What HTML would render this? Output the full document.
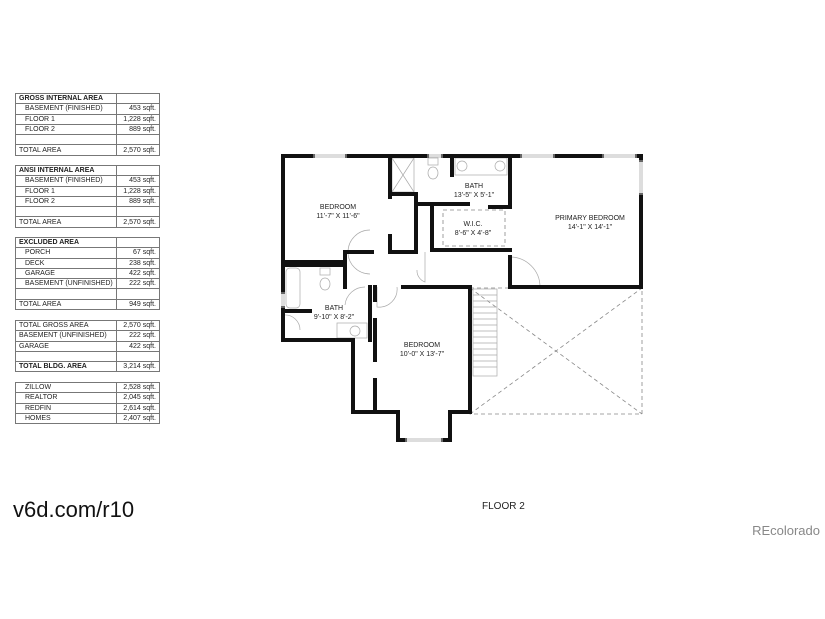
<!DOCTYPE html>
<html><head><style>
body{margin:0;background:#fff;width:825px;height:619px;overflow:hidden;position:relative;font-family:"Liberation Sans",sans-serif}
table{position:absolute;left:15px;width:145px;border-collapse:collapse;font-size:7px;color:#222}
td{border:1px solid #777;height:9.3px;padding:0 0 0 3px;line-height:9px;white-space:nowrap}
td.v{text-align:right;padding-right:3px;width:36px}
td.i{padding-left:9px}
b{font-weight:bold}
</style></head><body>
<table style="top:93px"><tr><td><b>GROSS INTERNAL AREA</b></td><td class="v"></td></tr>
<tr><td class="i">BASEMENT (FINISHED)</td><td class="v">453 sqft.</td></tr>
<tr><td class="i">FLOOR 1</td><td class="v">1,228 sqft.</td></tr>
<tr><td class="i">FLOOR 2</td><td class="v">889 sqft.</td></tr>
<tr><td></td><td class="v"></td></tr>
<tr><td>TOTAL AREA</td><td class="v">2,570 sqft.</td></tr></table>
<table style="top:165px"><tr><td><b>ANSI INTERNAL AREA</b></td><td class="v"></td></tr>
<tr><td class="i">BASEMENT (FINISHED)</td><td class="v">453 sqft.</td></tr>
<tr><td class="i">FLOOR 1</td><td class="v">1,228 sqft.</td></tr>
<tr><td class="i">FLOOR 2</td><td class="v">889 sqft.</td></tr>
<tr><td></td><td class="v"></td></tr>
<tr><td>TOTAL AREA</td><td class="v">2,570 sqft.</td></tr></table>
<table style="top:237px"><tr><td><b>EXCLUDED AREA</b></td><td class="v"></td></tr>
<tr><td class="i">PORCH</td><td class="v">67 sqft.</td></tr>
<tr><td class="i">DECK</td><td class="v">238 sqft.</td></tr>
<tr><td class="i">GARAGE</td><td class="v">422 sqft.</td></tr>
<tr><td class="i">BASEMENT (UNFINISHED)</td><td class="v">222 sqft.</td></tr>
<tr><td></td><td class="v"></td></tr>
<tr><td>TOTAL AREA</td><td class="v">949 sqft.</td></tr></table>
<table style="top:320px"><tr><td>TOTAL GROSS AREA</td><td class="v">2,570 sqft.</td></tr>
<tr><td>BASEMENT (UNFINISHED)</td><td class="v">222 sqft.</td></tr>
<tr><td>GARAGE</td><td class="v">422 sqft.</td></tr>
<tr><td></td><td class="v"></td></tr>
<tr><td><b>TOTAL BLDG. AREA</b></td><td class="v">3,214 sqft.</td></tr></table>
<table style="top:382px"><tr><td class="i">ZILLOW</td><td class="v">2,528 sqft.</td></tr>
<tr><td class="i">REALTOR</td><td class="v">2,045 sqft.</td></tr>
<tr><td class="i">REDFIN</td><td class="v">2,614 sqft.</td></tr>
<tr><td class="i">HOMES</td><td class="v">2,407 sqft.</td></tr></table>

<div style="position:absolute;left:13px;top:497px;font-size:22px;color:#111">v6d.com/r10</div>
<div style="position:absolute;left:482px;top:501px;font-size:10px;color:#222">FLOOR 2</div>
<div style="position:absolute;right:5px;top:523px;font-size:13px;color:#888">REcolorado</div>

<svg width="825" height="619" style="position:absolute;left:0;top:0" xmlns="http://www.w3.org/2000/svg">
<g stroke="#888" stroke-width="0.8" fill="none" stroke-dasharray="4,3">
<rect x="470" y="288" width="172" height="126"/>
<line x1="470" y1="414" x2="642" y2="288"/><line x1="470" y1="288" x2="642" y2="414"/>
<rect x="443" y="210" width="62" height="36"/>
</g>
<g stroke="#aaa" stroke-width="0.7" fill="none">
<rect x="473" y="289" width="24" height="87"/>
<path d="M473 295h24M473 301h24M473 307h24M473 313h24M473 319h24M473 325h24M473 331h24M473 337h24M473 343h24M473 349h24M473 355h24M473 361h24M473 367h24"/>
<rect x="392" y="158" width="22" height="34"/><path d="M392 158l22 34M414 158l-22 34"/>
<rect x="286" y="268" width="14" height="40" rx="4"/>
<ellipse cx="433" cy="173" rx="5" ry="6"/><rect x="428" y="158" width="10" height="7"/>
<ellipse cx="325" cy="284" rx="5" ry="6"/><rect x="320" y="268" width="10" height="7"/>
<circle cx="462" cy="166" r="5"/><circle cx="500" cy="166" r="5"/><rect x="455" y="158" width="52" height="17"/>
<rect x="337" y="323" width="30" height="15"/><circle cx="355" cy="331" r="5"/>
<path d="M370 230a22 22 0 0 0 0 44M370 252M345 305a20 20 0 0 1 20 -18M425 252v30a12 12 0 0 1 -8 -12M510 257a30 30 0 0 1 30 30M377 287v20a18 18 0 0 0 20 -20M300 330a15 15 0 0 0 -16 -15"/>
</g>
<g stroke="#111" stroke-width="4" fill="none" stroke-linecap="square">
<path d="M283 156H313M347 156H427M443 156H520M555 156H602M637 156H641V160M641 195V287H510V257M510 207V156"/>
<path d="M283 156V262H345V252H372M390 156V197M390 236V252H416V194H390M416 204H468M490 207H510M432 207V250H510M452 156V175"/>
<path d="M283 265H345V287M283 265V292M283 308V340H353V412H398V440M450 440V412H470V287M403 287H470M283 311H310M375 287V300M375 320V360M375 380V410M370 287V340"/>
<path d="M398 440H405M443 440H450"/>
</g>
<g stroke="#bbb" stroke-width="1"><path d="M313 155h34M313 157h34M427 155h16M427 157h16M520 155h35M520 157h35M602 155h35M602 157h35M405 439h38M405 441h38M640 160v35M642 160v35M282 292v16M284 292v16"/></g>
<g font-family="Liberation Sans,sans-serif" font-size="7" fill="#222" text-anchor="middle">
<text x="338" y="209">BEDROOM</text><text x="338" y="218">11'-7" X 11'-6"</text>
<text x="474" y="188">BATH</text><text x="474" y="197">13'-5" X 5'-1"</text>
<text x="590" y="220">PRIMARY BEDROOM</text><text x="590" y="229">14'-1" X 14'-1"</text>
<text x="473" y="226">W.I.C.</text><text x="473" y="235">8'-6" X 4'-8"</text>
<text x="334" y="310">BATH</text><text x="334" y="319">9'-10" X 8'-2"</text>
<text x="422" y="347">BEDROOM</text><text x="422" y="356">10'-0" X 13'-7"</text>
</g>
</svg>
</body></html>
